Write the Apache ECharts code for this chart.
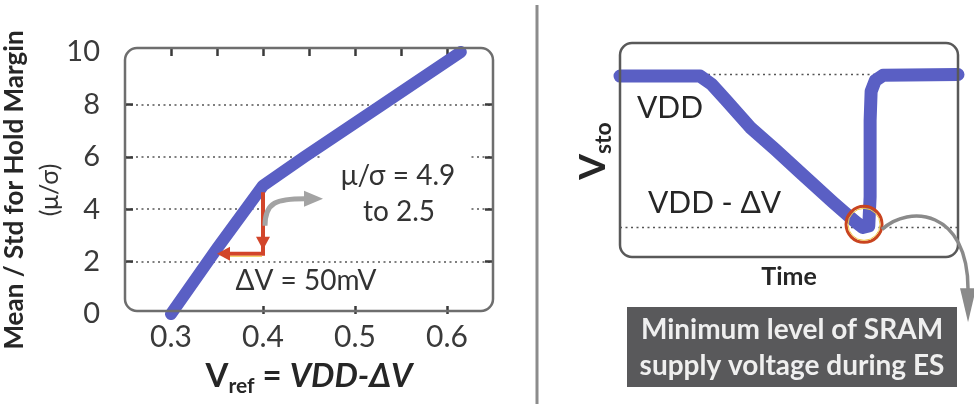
<!DOCTYPE html>
<html>
<head>
<meta charset="utf-8">
<script src="https://cdn.jsdelivr.net/npm/echarts@6/dist/echarts.min.js"></script>
<style>
  html, body { margin: 0; padding: 0; background: #ffffff; }
  #main { width: 974px; height: 404px; }
</style>
</head>
<body>
<div id="main"></div>
<script>
// Hold-margin mean/std versus the reference voltage Vref = VDD - ΔV
const vrefValues = [0.30, 0.35, 0.40, 0.445, 0.53, 0.615];
const muSigmaValues = [0, 2.5, 4.9, 6.0, 8.0, 10.0];
const vrefLabelTicks = [0.3, 0.4, 0.5, 0.6];
const vrefTopTicks = [0.3, 0.35, 0.4, 0.45, 0.5, 0.55, 0.6];
const muSigmaLabelTicks = [0, 2, 4, 6, 8, 10];
const muSigmaGridTicks = [2, 4, 6, 8];

// Storage-node voltage over time (1 = VDD, 0 = VDD - ΔV)
const timeValues = [0, 23.7, 27.2, 31.1, 38.5, 45.9, 53.3, 63.0, 69.5, 71.8, 73.6, 74.0, 74.0, 74.3, 75.5, 77.8, 100];
const vstoValues = [0.99, 0.99, 0.935, 0.84, 0.655, 0.51, 0.36, 0.165, 0.04, 0, 0.01, 0.2, 0.7, 0.89, 0.96, 0.995, 1.0];
const vstoLevels = [0, 1];
const timeRange = [0, 100];

const FONT = 'Lato, "Noto Sans", sans-serif';
const BLUE = '#5a5fc4';
const RED = '#d2452a';
const GRAY_ARROW = '#a3a3a3';

const leftGrid = { left: 125, top: 52, width: 368, height: 262 };
const rightGrid = { left: 620, top: 44, width: 338, height: 214 };

const chart = echarts.init(document.getElementById('main'), null, { renderer: 'canvas' });

// Inward ticks along the frame edges
const ticks = values => ({
  show: true, inside: true, length: 8, customValues: values,
  lineStyle: { color: '#3a3a3a', width: 2.5 }
});
// The frame is drawn separately with rounded corners; axis lines stay hidden and pinned to their edges
const hiddenLine = () => ({ show: false, onZero: false });

chart.setOption({
  backgroundColor: '#ffffff',
  animation: false,
  textStyle: { fontFamily: FONT },
  grid: [
    Object.assign({ containLabel: false }, leftGrid),
    Object.assign({ containLabel: false }, rightGrid)
  ],
  xAxis: [
    {
      gridIndex: 0, type: 'value', min: 0.25, max: 0.65, position: 'bottom',
      axisLine: hiddenLine(),
      axisTick: ticks(vrefLabelTicks),
      axisLabel: {
        customValues: vrefLabelTicks, formatter: v => v.toFixed(1),
        fontSize: 30, color: '#3a3a3a', margin: 8, fontFamily: FONT
      },
      splitLine: { show: false },
      name: '{v|V}{s|ref}{e| = }{i|VDD-ΔV}',
      nameLocation: 'middle', nameGap: 41,
      nameTextStyle: {
        fontFamily: FONT,
        rich: {
          v: { fontSize: 33, fontWeight: 'bold', color: '#262626', lineHeight: 42, fontFamily: FONT },
          s: { fontSize: 21, fontWeight: 'bold', color: '#262626', verticalAlign: 'bottom', lineHeight: 22, fontFamily: FONT },
          e: { fontSize: 33, fontWeight: 'bold', color: '#262626', lineHeight: 42, fontFamily: FONT },
          i: { fontSize: 33, fontWeight: 'bold', fontStyle: 'italic', color: '#262626', lineHeight: 42, fontFamily: FONT }
        }
      }
    },
    {
      gridIndex: 0, type: 'value', min: 0.25, max: 0.65, position: 'top', offset: 4,
      axisLine: hiddenLine(),
      axisTick: ticks(vrefTopTicks),
      axisLabel: { show: false, customValues: vrefTopTicks },
      splitLine: { show: false }
    },
    {
      gridIndex: 1, type: 'value', min: timeRange[0], max: timeRange[1],
      axisLine: hiddenLine(), axisTick: { show: false }, axisLabel: { show: false },
      splitLine: { show: false },
      name: 'Time', nameLocation: 'middle', nameGap: 6,
      nameTextStyle: { fontSize: 25, fontWeight: 'bold', color: '#262626', fontFamily: FONT, verticalAlign: 'top' }
    }
  ],
  yAxis: [
    {
      gridIndex: 0, type: 'value', min: 0, max: 10, position: 'left',
      axisLine: hiddenLine(),
      axisTick: ticks(muSigmaGridTicks),
      axisLabel: {
        customValues: muSigmaLabelTicks, fontSize: 29, color: '#3a3a3a', margin: 25, fontFamily: FONT
      },
      splitLine: { show: true, lineStyle: { type: [2, 3.5], color: '#555', width: 1.6 } },
      name: '{a|Mean / Std for Hold Margin}\n{b|(μ/σ)}',
      nameLocation: 'middle', nameGap: 50,
      nameTextStyle: {
        align: 'center', padding: [0, 14, 0, 0], fontFamily: FONT,
        rich: {
          a: { fontSize: 26, fontWeight: 'bold', color: '#262626', lineHeight: 37, fontFamily: FONT },
          b: { fontSize: 25, color: '#333', lineHeight: 34, fontFamily: FONT }
        }
      }
    },
    {
      gridIndex: 0, type: 'value', min: 0, max: 10, position: 'right',
      axisLine: hiddenLine(),
      axisTick: ticks(muSigmaGridTicks),
      axisLabel: { show: false, customValues: muSigmaGridTicks },
      splitLine: { show: false }
    },
    {
      gridIndex: 1, type: 'value', min: -0.2, max: 1.2,
      axisLine: hiddenLine(), axisTick: { show: false }, axisLabel: { show: false },
      splitLine: { show: false },
      name: '{v|V}{s|sto}', nameLocation: 'middle', nameGap: 5,
      nameTextStyle: {
        fontFamily: FONT,
        rich: {
          v: { fontSize: 37, fontWeight: 'bold', color: '#262626', lineHeight: 44, fontFamily: FONT },
          s: { fontSize: 23, fontWeight: 'bold', color: '#262626', verticalAlign: 'bottom', lineHeight: 24, fontFamily: FONT }
        }
      }
    }
  ],
  series: [
    {
      type: 'line', xAxisIndex: 0, yAxisIndex: 0, z: 2,
      data: vrefValues.map((v, i) => [v, muSigmaValues[i]]),
      symbol: 'none', silent: true,
      lineStyle: { color: BLUE, width: 12, cap: 'round', join: 'round' }
    },
    ...vstoLevels.map(level => ({
      type: 'line', xAxisIndex: 2, yAxisIndex: 2, z: 1,
      data: [[timeRange[0], level], [timeRange[1], level]],
      symbol: 'none', silent: true,
      lineStyle: { color: '#555', width: 1.6, type: [2, 3.5] }
    })),
    {
      type: 'line', xAxisIndex: 2, yAxisIndex: 2, z: 2,
      data: timeValues.map((t, i) => [t, vstoValues[i]]),
      symbol: 'none', silent: true,
      lineStyle: { color: BLUE, width: 13, cap: 'round', join: 'round' }
    }
  ]
});

// Annotations anchored to data coordinates
const pL = v => chart.convertToPixel({ xAxisIndex: 0, yAxisIndex: 0 }, v);
const pR = v => chart.convertToPixel({ xAxisIndex: 2, yAxisIndex: 2 }, v);

const arrowTop = pL([0.4, 4.65]);
const corner = pL([0.4, 2.3]);
const leftTip = pL([0.35, 2.3]);
const minPoint = pR([72.2, 0.02]);

const txt = (x, y, text, extra) => ({
  type: 'text', x: x, y: y, z: 4,
  style: Object.assign({
    text: text, fontFamily: FONT, fontSize: 27, fill: '#333',
    align: 'center', verticalAlign: 'middle'
  }, extra || {})
});

const graphics = [
  // Plot frames
  { type: 'rect', z: 5, silent: true,
    shape: { x: leftGrid.left, y: leftGrid.top - 4, width: leftGrid.width, height: leftGrid.height + 1, r: 12 },
    style: { fill: 'none', stroke: '#6e6e6e', lineWidth: 2.5 } },
  { type: 'rect', z: 5, silent: true,
    shape: { x: rightGrid.left, y: rightGrid.top - 1, width: rightGrid.width, height: rightGrid.height, r: 12 },
    style: { fill: 'none', stroke: '#595959', lineWidth: 2.5 } },
  // Divider between the two panels
  { type: 'line', z: 5, silent: true,
    shape: { x1: 537, y1: 5, x2: 537, y2: 404 },
    style: { stroke: '#8c8c8c', lineWidth: 3 } },

  // White patches behind the annotation text
  { type: 'rect', z: 1, silent: true,
    shape: { x: corner[0] + 3, y: arrowTop[1], width: 60, height: 40 },
    style: { fill: '#ffffff' } },
  { type: 'rect', z: 1, silent: true,
    shape: { x: 323, y: 150, width: 145, height: 80 },
    style: { fill: '#ffffff' } },

  txt(398, 176, 'μ/σ = 4.9', { fontSize: 28 }),
  txt(399, 212, 'to 2.5', { fontSize: 28 }),
  txt(306, 281, 'ΔV = 50mV', { fontSize: 28 }),

  // Red ΔV arrows
  { type: 'polyline', z: 6, silent: true,
    shape: { points: [[arrowTop[0], arrowTop[1]], [corner[0], corner[1]], [leftTip[0] + 10, corner[1]]] },
    style: { stroke: RED, lineWidth: 4, fill: 'none' } },
  { type: 'line', z: 6, silent: true,
    shape: { x1: corner[0] - 1, y1: corner[1] + 2.5, x2: leftTip[0] + 10, y2: corner[1] + 2.5 },
    style: { stroke: '#f0c23a', lineWidth: 1 } },
  { type: 'polygon', z: 6, silent: true,
    shape: { points: [[corner[0] - 7, corner[1] - 17], [corner[0] + 7, corner[1] - 17], [corner[0], corner[1] - 4]] },
    style: { fill: RED } },
  { type: 'polygon', z: 6, silent: true,
    shape: { points: [[leftTip[0], leftTip[1]], [leftTip[0] + 13, leftTip[1] - 7], [leftTip[0] + 13, leftTip[1] + 7]] },
    style: { fill: RED } },

  // Gray curved arrow toward the μ/σ note
  { type: 'bezierCurve', z: 6, silent: true,
    shape: { x1: corner[0] + 2, y1: corner[1] - 28, cpx1: corner[0] + 2, cpy1: corner[1] - 52,
             cpx2: corner[0] + 14, cpy2: corner[1] - 55, x2: corner[0] + 42, y2: corner[1] - 55 },
    style: { stroke: GRAY_ARROW, lineWidth: 5, fill: 'none' } },
  { type: 'polygon', z: 6, silent: true,
    shape: { points: [[corner[0] + 41, corner[1] - 63], [corner[0] + 41, corner[1] - 47], [corner[0] + 60, corner[1] - 55]] },
    style: { fill: GRAY_ARROW } },

  // Right panel labels
  txt(637, 108, 'VDD', { align: 'left', fontSize: 30, fill: '#262626' }),
  txt(648, 203, 'VDD - ΔV', { align: 'left', fontSize: 30, fill: '#262626' }),

  // Minimum marker and its callout
  { type: 'circle', z: 6, silent: true,
    shape: { cx: minPoint[0], cy: minPoint[1], r: 18 },
    style: { fill: 'none', stroke: '#c9441f', lineWidth: 3 } },
  { type: 'circle', z: 6, silent: true,
    shape: { cx: minPoint[0], cy: minPoint[1], r: 16 },
    style: { fill: 'none', stroke: '#f1c84a', lineWidth: 1 } },
  { type: 'bezierCurve', z: 6, silent: true,
    shape: { x1: minPoint[0] + 18, y1: minPoint[1] + 5, cpx1: minPoint[0] + 45, cpy1: minPoint[1] - 20,
             cpx2: minPoint[0] + 104, cpy2: minPoint[1] - 15, x2: minPoint[0] + 104, y2: minPoint[1] + 65 },
    style: { stroke: '#8a8a8a', lineWidth: 3.5, fill: 'none' } },
  { type: 'polygon', z: 6, silent: true,
    shape: { points: [[minPoint[0] + 96, minPoint[1] + 64], [minPoint[0] + 112, minPoint[1] + 64], [minPoint[0] + 104, minPoint[1] + 98]] },
    style: { fill: '#8a8a8a' } },

  // Caption box
  { type: 'rect', z: 4, silent: true,
    shape: { x: 627, y: 307, width: 330, height: 80 },
    style: { fill: '#59595b' } },
  txt(792, 330, 'Minimum level of SRAM', { fontSize: 28, fontWeight: 'bold', fill: '#efefef' }),
  txt(792, 366, 'supply voltage during ES', { fontSize: 28, fontWeight: 'bold', fill: '#efefef' })
];

chart.setOption({ graphic: graphics });
</script>
</body>
</html>
